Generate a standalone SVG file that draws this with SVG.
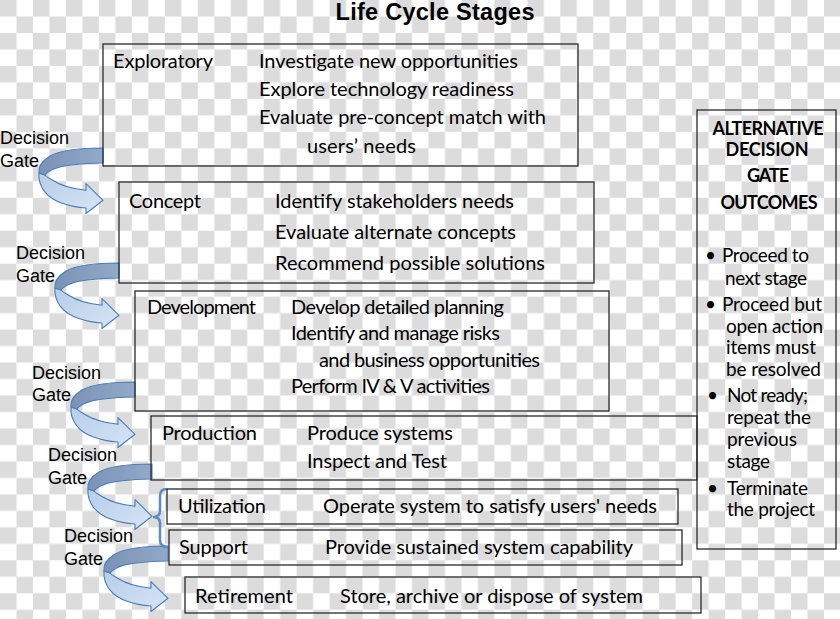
<svg xmlns="http://www.w3.org/2000/svg" xmlns:xlink="http://www.w3.org/1999/xlink" width="840" height="619" viewBox="0 0 840 619">
<style>
.box{fill:none;stroke:#2a2a2a;stroke-width:1.3}
.t{font-family:Lato,"Liberation Sans",sans-serif;font-size:20px;fill:#000}
.s{font-family:Lato,"Liberation Sans",sans-serif;font-size:19px;fill:#000}
.h{font-family:Lato,"Liberation Sans",sans-serif;font-size:18px;font-weight:bold;fill:#000}
.dg{font-family:"Liberation Sans",Arial,sans-serif;font-size:18px;fill:#000}
.title{font-family:"Liberation Sans",Arial,sans-serif;font-size:23.5px;font-weight:bold;fill:#000}
.edge{stroke:#4a7ebb;stroke-width:1.1;stroke-linejoin:round}
</style>
<defs>
<pattern id="chk" width="32.96" height="32.96" patternUnits="userSpaceOnUse">
<rect width="32.96" height="32.96" fill="#ffffff"/>
<rect width="16.48" height="16.48" fill="#dcdcdc"/>
<rect x="16.48" y="16.48" width="16.48" height="16.48" fill="#dcdcdc"/>
</pattern>
<linearGradient id="gDark" x1="0" y1="0" x2="1" y2="0">
<stop offset="0" stop-color="#7a92b6"/>
<stop offset="1" stop-color="#93a9c9"/>
</linearGradient>
<linearGradient id="gLight" x1="0" y1="0" x2="1" y2="1">
<stop offset="0" stop-color="#b7cde9"/>
<stop offset="1" stop-color="#d8e5f5"/>
</linearGradient>
<g id="uarrow">
<path class="edge" fill="url(#gLight)" d="M-64,25 C-65,38 -57,50 -40,55.5 C-32,58.5 -24,59.5 -17,60 L-17,65.5 L0,52.3 L-17,35.6 L-17,42.3 C-30,41 -42,37.5 -50,32.5 C-54,30 -57,28.5 -58,27 Z"/>
<path class="edge" fill="url(#gDark)" d="M0,0 C-22,0 -42,2 -53,8 C-61,13 -65,19 -64,25 L-58,27 C-54,22 -44,18.5 -32,17 C-20,15.5 -10,15 0,15 Z"/>
</g>
</defs>
<rect width="840" height="619" fill="url(#chk)"/>
<text class="title" x="435" y="20" text-anchor="middle" textLength="199">Life Cycle Stages</text>

<g id="connectors">
<use xlink:href="#uarrow" transform="translate(103,148)"/>
<use xlink:href="#uarrow" transform="translate(119,263)"/>
<use xlink:href="#uarrow" transform="translate(135,382)"/>
<use xlink:href="#uarrow" transform="translate(152,464)"/>
<use xlink:href="#uarrow" transform="translate(168,546)"/>
<path d="M167,489 Q160,489 160,496 L160,511 Q160,517 153,517 Q160,517 160,523 L160,540 Q160,547 168,547" fill="none" stroke="#5b8bc6" stroke-width="2.5"/>
<text class="dg" x="0" y="144">Decision</text><text class="dg" x="0" y="167">Gate</text>
<text class="dg" x="16" y="259">Decision</text><text class="dg" x="16" y="282">Gate</text>
<text class="dg" x="32" y="379">Decision</text><text class="dg" x="32" y="401">Gate</text>
<text class="dg" x="48" y="461">Decision</text><text class="dg" x="48" y="484">Gate</text>
<text class="dg" x="64" y="542">Decision</text><text class="dg" x="64" y="565">Gate</text>
</g>

<g id="exploratory">
<rect class="box" x="103" y="44" width="475" height="122"/>
<text class="t" x="113" y="68" textLength="100">Exploratory</text>
<text class="t" x="259" y="68" textLength="259">Investigate new opportunities</text>
<text class="t" x="259" y="96" textLength="255">Explore technology readiness</text>
<text class="t" x="259" y="124" textLength="287">Evaluate pre-concept match with</text>
<text class="t" x="307" y="153" textLength="109">users’ needs</text>
</g>

<g id="concept">
<rect class="box" x="119" y="182" width="475" height="101"/>
<text class="t" x="129" y="208" textLength="72">Concept</text>
<text class="t" x="275" y="208" textLength="239">Identify stakeholders needs</text>
<text class="t" x="275" y="239" textLength="241">Evaluate alternate concepts</text>
<text class="t" x="275" y="270" textLength="270">Recommend possible solutions</text>
</g>

<g id="development">
<rect class="box" x="135" y="291" width="474" height="120"/>
<text class="t" x="147" y="314" textLength="109">Development</text>
<text class="t" x="291" y="314" textLength="213">Develop detailed planning</text>
<text class="t" x="291" y="340" textLength="209">Identify and manage risks</text>
<text class="t" x="319" y="367" textLength="221">and business opportunities</text>
<text class="t" x="291" y="393" textLength="199">Perform IV &amp; V activities</text>
</g>

<g id="production">
<rect class="box" x="151" y="416" width="546" height="64"/>
<text class="t" x="162" y="440" textLength="95">Production</text>
<text class="t" x="307" y="440" textLength="146">Produce systems</text>
<text class="t" x="307" y="468" textLength="140">Inspect and Test</text>
</g>

<g id="utilization">
<rect class="box" x="167" y="489" width="511" height="35"/>
<text class="t" x="178" y="513" textLength="88">Utilization</text>
<text class="t" x="323" y="513" textLength="334">Operate system to satisfy users' needs</text>
</g>

<g id="support">
<rect class="box" x="169" y="530" width="513" height="35"/>
<text class="t" x="179" y="554" textLength="69">Support</text>
<text class="t" x="325" y="554" textLength="308">Provide sustained system capability</text>
</g>

<g id="retirement">
<rect class="box" x="185" y="577" width="516" height="36"/>
<text class="t" x="195" y="603" textLength="98">Retirement</text>
<text class="t" x="340" y="603" textLength="303">Store, archive or dispose of system</text>
</g>

<g id="outcomes">
<rect class="box" x="697" y="110" width="139" height="439"/>
<text class="h" x="768" y="135" text-anchor="middle" textLength="111">ALTERNATIVE</text>
<text class="h" x="767" y="156" text-anchor="middle" textLength="83">DECISION</text>
<text class="h" x="768" y="182" text-anchor="middle" textLength="42">GATE</text>
<text class="h" x="769" y="209" text-anchor="middle" textLength="97">OUTCOMES</text>
<text class="s" x="705" y="262">•</text>
<text class="s" x="722" y="262" textLength="87">Proceed to</text>
<text class="s" x="725" y="285" textLength="82">next stage</text>
<text class="s" x="705" y="311">•</text>
<text class="s" x="722" y="311" textLength="100">Proceed but</text>
<text class="s" x="726" y="333" textLength="97">open action</text>
<text class="s" x="726" y="354" textLength="90">items must</text>
<text class="s" x="726" y="376" textLength="95">be resolved</text>
<text class="s" x="707" y="402">•</text>
<text class="s" x="727" y="402" textLength="81">Not ready;</text>
<text class="s" x="727" y="424" textLength="84">repeat the</text>
<text class="s" x="727" y="446" textLength="70">previous</text>
<text class="s" x="727" y="468" textLength="43">stage</text>
<text class="s" x="707" y="495">•</text>
<text class="s" x="727" y="495" textLength="81">Terminate</text>
<text class="s" x="727" y="516" textLength="88">the project</text>
</g>
</svg>
